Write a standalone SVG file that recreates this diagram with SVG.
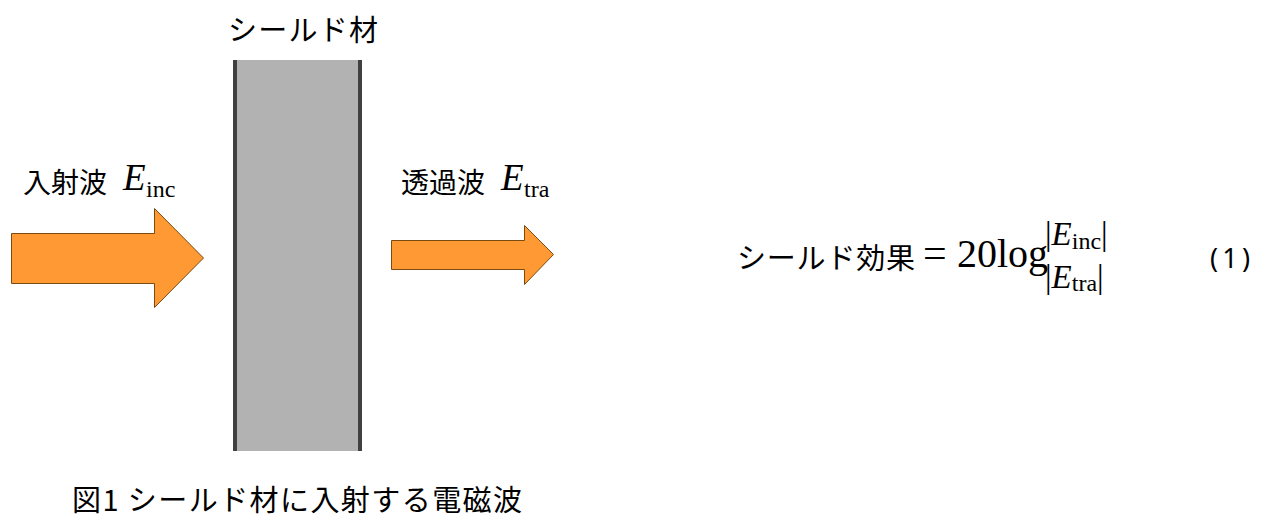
<svg xmlns="http://www.w3.org/2000/svg" width="1266" height="530" viewBox="0 0 1266 530">
<style>
.jp{font-family:"Noto Sans CJK JP","Noto Sans",sans-serif;fill:#000}
.tm{font-family:"Liberation Serif","DejaVu Serif",serif;fill:#000}
.it{font-style:italic}
.arrow{fill:#ff9933;stroke:#7a4a10;stroke-width:1}
</style>
<rect width="1266" height="530" fill="#fff"/>
<g id="shield">
<rect x="235" y="60" width="125" height="391" fill="#b2b2b2"/>
<line x1="235" y1="60" x2="235" y2="451" stroke="#404040" stroke-width="4"/>
<line x1="360" y1="60" x2="360" y2="451" stroke="#404040" stroke-width="4"/>
<text class="jp" x="228" y="41" font-size="29" textLength="150" lengthAdjust="spacing">シールド材</text>
</g>
<g id="incident">
<polygon class="arrow" points="11.5,233.5 154.5,233.5 154.5,208.5 203.5,258 154.5,307.5 154.5,283.5 11.5,283.5"/>
<text class="jp" x="23" y="193" font-size="28">入射波</text>
<text class="tm it" x="123" y="190" font-size="37">E</text>
<text class="tm" x="146" y="197" font-size="24">inc</text>
</g>
<g id="transmitted">
<polygon class="arrow" points="391.5,240.5 524.5,240.5 524.5,225.5 553.5,254.5 524.5,284.5 524.5,269.5 391.5,269.5"/>
<text class="jp" x="401" y="193" font-size="28">透過波</text>
<text class="tm it" x="501" y="190" font-size="37">E</text>
<text class="tm" x="524" y="197" font-size="24">tra</text>
</g>
<g id="formula">
<text class="jp" x="737" y="269" font-size="29" textLength="178" lengthAdjust="spacing">シールド効果</text>
<text class="tm" x="923" y="267" font-size="42">=</text>
<text class="tm" x="957" y="267" font-size="40">20log</text>
<text class="tm" x="1045" y="245" font-size="33">|<tspan class="it">E</tspan><tspan font-size="24" dy="4">inc</tspan><tspan dy="-4">|</tspan></text>
<text class="tm" x="1045" y="288" font-size="33">|<tspan class="it">E</tspan><tspan font-size="24" dy="3">tra</tspan><tspan dy="-3">|</tspan></text>
<text x="1210" y="268" font-size="27" font-family="Noto Sans, sans-serif" textLength="40" lengthAdjust="spacing">(1)</text>
</g>
<g id="caption">
<text class="jp" x="72" y="511" font-size="29" textLength="450" lengthAdjust="spacing">図1 シールド材に入射する電磁波</text>
</g>
</svg>
